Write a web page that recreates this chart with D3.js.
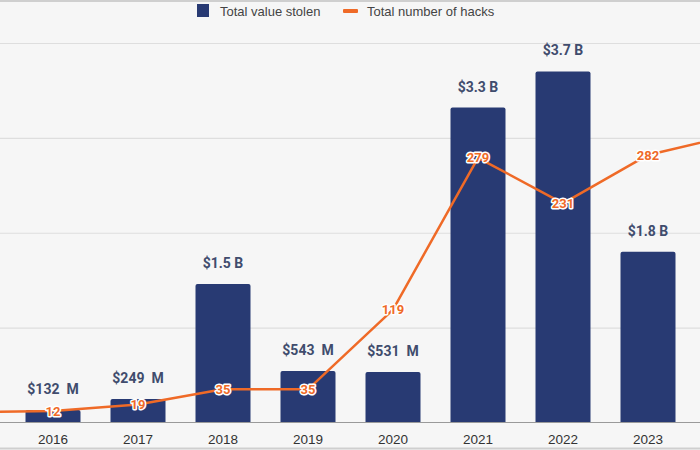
<!DOCTYPE html>
<html><head><meta charset="utf-8">
<script src="https://cdn.jsdelivr.net/npm/d3@7"></script>
<style>
html,body{margin:0;padding:0;background:#f6f6f6;}
svg{display:block;font-family:Roboto,"Liberation Sans",Arial,sans-serif;}
</style></head>
<body><svg id="c" width="700" height="450"></svg>
<script>
// Data (2015 and 2024 lie partly outside the visible window)
const years = ["2015","2016","2017","2018","2019","2020","2021","2022","2023","2024"];
const barYears = ["2016","2017","2018","2019","2020","2021","2022","2023"];
const valueStolen = [0.132, 0.249, 1.46, 0.543, 0.531, 3.32, 3.7, 1.8]; // billions USD
const valueLabels = ["$132  M","$249  M","$1.5 B","$543  M","$531  M","$3.3 B","$3.7 B","$1.8 B"];
const hackCounts = [11, 12, 19, 35, 35, 119, 279, 231, 282, 303];
const hackLabelYears = ["2016","2017","2018","2019","2020","2021","2022","2023"];
const legendLabels = ["Total value stolen","Total number of hacks"];

const W = 700, H = 450;
const svg = d3.select("#c");
const navy = "#283a73", orange = "#ef6a27";
const sansFont = "'Liberation Sans', Arial, sans-serif";

svg.append("rect").attr("width",W).attr("height",H).attr("fill","#f6f6f6");

const x = d3.scaleBand().domain(years).range([-74.5, 775.5]).paddingInner(0.353).paddingOuter(0.1765);
const yVal = d3.scaleLinear().domain([0,4]).range([422.5, 43]);
const yHack = d3.scaleLinear().domain([0,400]).range([422.5, 43]);

// gridlines
const grid = d3.axisLeft(yVal).tickValues([1,2,3,4]).tickSize(-W).tickFormat("");
svg.append("g").call(grid)
  .call(g=>g.select(".domain").remove())
  .call(g=>g.selectAll("line").attr("stroke","#dedede").attr("stroke-width",1.2));

// borders
svg.append("line").attr("x1",0).attr("x2",W).attr("y1",1).attr("y2",1).attr("stroke","#cfcfcf").attr("stroke-width",2);
svg.append("line").attr("x1",0).attr("x2",W).attr("y1",448.5).attr("y2",448.5).attr("stroke","#cfcfcf").attr("stroke-width",2);

// bars
svg.append("g").selectAll("path").data(barYears).join("path")
  .attr("fill",navy)
  .attr("d",(d,i)=>{
    const x0=x(d), w=x.bandwidth(), y0=yVal(valueStolen[i]), y1=yVal(0), r=2;
    return `M${x0},${y1}V${y0+r}Q${x0},${y0} ${x0+r},${y0}H${x0+w-r}Q${x0+w},${y0} ${x0+w},${y0+r}V${y1}Z`;
  });

// baseline / x axis
const xAxis = d3.axisBottom(x).tickSize(0).tickPadding(9);
svg.append("g").attr("transform",`translate(0,${yVal(0)})`).call(xAxis)
  .call(g=>g.select(".domain").attr("stroke","#9a9a9a").attr("stroke-width",1.2).attr("d",`M0,0H${W}`))
  .call(g=>g.selectAll(".tick").filter(d=>!barYears.includes(d)).remove())
  .call(g=>g.selectAll("text").attr("font-size",13.5).attr("fill","#333").attr("font-family",sansFont).attr("dy","0.9em"));

// value labels
svg.append("g").selectAll("text").data(barYears).join("text")
  .attr("x",d=>x(d)+x.bandwidth()/2)
  .attr("y",(d,i)=>yVal(valueStolen[i])-16)
  .attr("text-anchor","middle")
  .attr("font-size",14).attr("font-weight","bold").attr("fill","#404c6d")
  .style("white-space","pre")
  .text((d,i)=>valueLabels[i]);

// line
const cx = d=>x(d)+x.bandwidth()/2;
const line = d3.line().x((d,i)=>cx(years[i])).y(d=>yHack(d));
svg.append("path").datum(hackCounts).attr("d",line)
  .attr("fill","none").attr("stroke",orange).attr("stroke-width",2.5).attr("stroke-linejoin","round");

// hack labels
svg.append("g").selectAll("text").data(hackLabelYears).join("text")
  .attr("x",d=>cx(d))
  .attr("y",d=>yHack(hackCounts[years.indexOf(d)]))
  .attr("dy","0.36em")
  .attr("text-anchor","middle")
  .attr("font-size",13).attr("font-weight","bold")
  .attr("fill",orange).attr("stroke","#ffffff").attr("stroke-width",3).attr("stroke-linejoin","round")
  .attr("paint-order","stroke")
  .text(d=>hackCounts[years.indexOf(d)]);

// legend
const lg = svg.append("g").attr("font-family",sansFont);
lg.append("rect").attr("x",197).attr("y",4).attr("width",12).attr("height",13).attr("fill",navy);
lg.append("text").attr("x",220).attr("y",16).attr("font-size",13).attr("fill","#444").text(legendLabels[0]);
lg.append("rect").attr("x",343).attr("y",9).attr("width",15).attr("height",4).attr("rx",1).attr("fill",orange);
lg.append("text").attr("x",367).attr("y",16).attr("font-size",13).attr("fill","#444").text(legendLabels[1]);
</script></body></html>
